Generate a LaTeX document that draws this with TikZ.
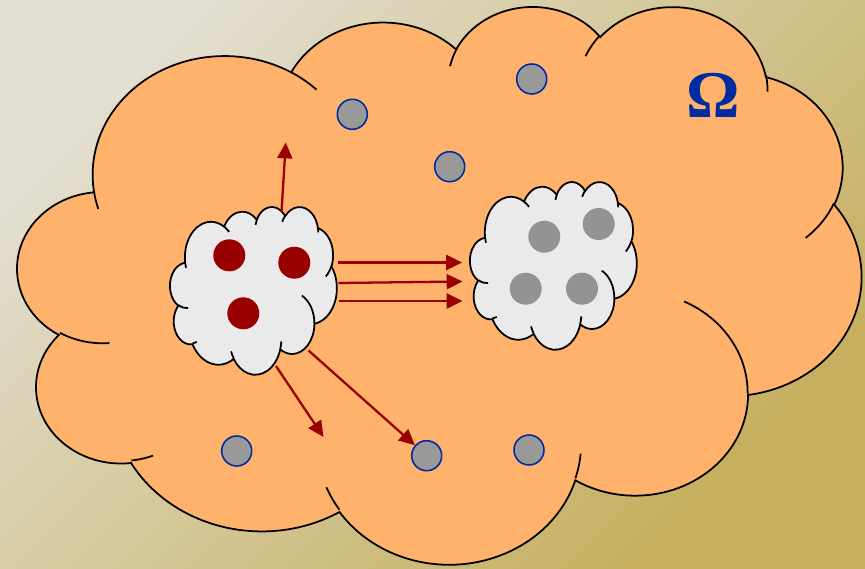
\documentclass[tikz,border=0pt]{standalone}
\usepackage{fontspec}
\newfontfamily\omegafont{Liberation Serif}
\usetikzlibrary{arrows.meta}
% cloud outline in a 432 x 432 box (y pointing down)
\newcommand\cloudoutline{(39.00,143.70)
 arc[x radius=67.53,y radius=91.90,start angle=-187.75,delta angle=128.11]
 arc[x radius=53.33,y radius=72.67,start angle=-152.03,delta angle=106.57]
 arc[x radius=43.65,y radius=59.45,start angle=-153.49,delta angle=116.16]
 arc[x radius=48.57,y radius=65.95,start angle=-139.71,delta angle=129.50]
 arc[x radius=53.33,y radius=72.73,start angle=-74.77,delta angle=97.98]
 arc[x radius=67.75,y radius=92.20,start angle=-37.52,delta angle=119.38]
 arc[x radius=57.85,y radius=78.67,start angle=0.46,delta angle=121.51]
 arc[x radius=67.52,y radius=92.15,start angle=16.84,delta angle=129.37]
 arc[x radius=77.20,y radius=105.43,start angle=58.98,delta angle=91.21]
 arc[x radius=43.60,y radius=59.18,start angle=83.31,delta angle=139.79]
 arc[x radius=43.45,y radius=59.45,start angle=120.36,delta angle=143.75]
 -- cycle}
% inner folds of the cloud
\newcommand\cloudcreases{(46.93,261.77) arc[x radius=43.45,y radius=59.45,start angle=85.55,delta angle=34.81]
 (69.28,348.99) arc[x radius=43.60,y radius=59.18,start angle=68.24,delta angle=15.07]
 (164.78,390.90) arc[x radius=67.52,y radius=92.15,start angle=146.21,delta angle=12.26]
 (288.27,347.51) arc[x radius=67.52,y radius=92.15,start angle=4.74,delta angle=12.10]
 (341.29,229.54) arc[x radius=57.85,y radius=78.67,start angle=-64.03,delta angle=64.49]
 (417.98,153.54) arc[x radius=53.33,y radius=72.73,start angle=23.21,delta angle=26.44]
 (383.24,54.26) arc[x radius=48.57,y radius=65.95,start angle=-10.21,delta angle=11.03]
 (290.78,39.52) arc[x radius=48.57,y radius=65.95,start angle=-156.29,delta angle=16.58]
 (221.41,47.20) arc[x radius=43.65,y radius=59.45,start angle=-167.73,delta angle=14.24]
 (140.00,51.92) arc[x radius=67.53,y radius=91.90,start angle=-59.64,delta angle=13.92]
 (41.27,157.89) arc[x radius=67.53,y radius=91.90,start angle=163.19,delta angle=9.06]}
\begin{document}
\begin{tikzpicture}[x=0.02cm,y=-0.02cm]
\definecolor{bgtop}{HTML}{E2DED0}\definecolor{bgbottom}{HTML}{C5AE5C}
\definecolor{corange}{HTML}{FFB26B}\definecolor{cwhite}{HTML}{EAEAEA}
\definecolor{cred}{HTML}{990000}\definecolor{cgray}{HTML}{999999}
\definecolor{cgrayd}{HTML}{939393}\definecolor{cblue}{HTML}{002CA0}
\tikzset{bigcloud/.style={fill=corange,draw=black,line width=1pt},
 smallcloud/.style={fill=cwhite,draw=black,line width=1pt},
 crease/.style={draw=black,line width=1pt},
 graydot/.style={circle,fill=cgray,draw=cblue,line width=0.9pt,minimum size=0.6cm,inner sep=0pt},
 reddot/.style={circle,fill=cred,minimum size=0.64cm,inner sep=0pt},
 greydot/.style={circle,fill=cgrayd,minimum size=0.64cm,inner sep=0pt},
 flowarrow/.style={draw=cred,line width=1.3pt,-{Triangle[length=9pt,width=8.5pt]}}}
\useasboundingbox (0,0) rectangle (865,568);
\shade[top color=bgtop,bottom color=bgbottom,shading angle=45] (0,0) rectangle (865,568);
% domain
\begin{scope}[shift={(0.354cm,-0.104cm)},x=0.03907cm,y=-0.025822cm]
\path[bigcloud] \cloudoutline;
\path[crease] \cloudcreases;
\end{scope}
\node[font=\omegafont\bfseries\fontsize{38}{40}\selectfont,text=cblue,inner sep=0pt] (omega) at (713.7,95.8) {Ω};
\node[graydot] (g1) at (352.3,114.3) {};
\node[graydot] (g2) at (531.7,79) {};
\node[graydot] (g3) at (449.7,166.7) {};
\node[graydot] (g4) at (236.7,451) {};
\node[graydot] (g5) at (426.7,455.7) {};
\node[graydot] (g6) at (529,450) {};
% source and target clusters
\begin{scope}[shift={(3.402cm,-4.130cm)},x=0.00772cm,y=-0.00777cm]
\path[smallcloud] \cloudoutline;
\path[crease] \cloudcreases;
\end{scope}
\begin{scope}[shift={(9.402cm,-3.630cm)},x=0.00772cm,y=-0.00777cm]
\path[smallcloud] \cloudoutline;
\path[crease] \cloudcreases;
\end{scope}
\node[reddot] (r1) at (229.3,255.3) {};
\node[reddot] (r2) at (294.3,262.7) {};
\node[reddot] (r3) at (243.3,313.3) {};
\node[greydot] (s1) at (544.3,236.7) {};
\node[greydot] (s2) at (598.7,224) {};
\node[greydot] (s3) at (525.7,288.7) {};
\node[greydot] (s4) at (582,288.7) {};
% arrows
\coordinate (upS) at (281.5,212);\coordinate (upE) at (285.8,142.5);
\coordinate (h1S) at (338,262.5);\coordinate (h1E) at (462,262.5);
\coordinate (h2S) at (338.5,283);\coordinate (h2E) at (462.5,281.5);
\coordinate (h3S) at (338.5,301);\coordinate (h3E) at (462.5,301);
\coordinate (dnS) at (276,366);\coordinate (dnE) at (323.5,437);
\coordinate (dgS) at (308.5,350.5);
\draw[flowarrow] (upS) -- (upE);
\draw[flowarrow] (h1S) -- (h1E);
\draw[flowarrow] (h2S) -- (h2E);
\draw[flowarrow] (h3S) -- (h3E);
\draw[flowarrow] (dnS) -- (dnE);
\draw[flowarrow] (dgS) -- (g5);
\end{tikzpicture}
\end{document}
